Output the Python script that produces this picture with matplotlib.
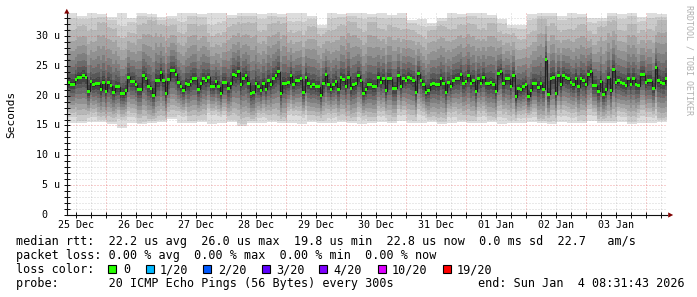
import numpy as np
import pandas as pd
import matplotlib
matplotlib.use("Agg")
import matplotlib.pyplot as plt
import matplotlib.dates as mdates
from matplotlib.transforms import offset_copy, blended_transform_factory
from matplotlib.patches import Rectangle, Polygon

# ---------------- data ----------------
# hourly median RTT in microseconds, 240 values over 10 days
median_us = [
    22.2, 21.9, 21.9, 22.7, 23.1, 23.1, 23.4, 23.1, 20.7, 22.3,
    21.8, 22.0, 22.0, 21.0, 22.2, 20.7, 22.2, 21.7, 20.6, 21.5,
    21.5, 20.3, 20.3, 20.8, 23.1, 22.4, 22.4, 21.8, 21.0, 21.0,
    23.3, 22.8, 21.6, 21.2, 20.1, 22.6, 22.6, 23.8, 22.5, 20.3,
    22.7, 24.2, 24.2, 23.6, 22.2, 21.5, 20.9, 22.1, 21.8, 22.4,
    22.8, 22.8, 21.1, 22.0, 22.8, 22.5, 23.1, 21.6, 21.6, 22.4,
    21.5, 20.4, 22.2, 22.2, 21.2, 22.0, 23.6, 23.3, 24.0, 21.8,
    22.9, 23.3, 22.1, 20.4, 20.6, 22.1, 21.5, 20.9, 22.1, 21.1,
    22.5, 21.8, 22.9, 23.3, 24.0, 20.4, 22.1, 22.0, 22.2, 23.3,
    21.9, 22.5, 22.6, 22.8, 20.6, 23.1, 22.0, 21.6, 21.8, 21.5,
    21.5, 20.1, 22.1, 23.5, 21.9, 21.1, 21.8, 22.4, 21.1, 23.0,
    22.7, 21.5, 23.1, 21.2, 21.8, 22.0, 23.3, 22.5, 20.4, 21.1,
    21.9, 21.9, 21.5, 21.6, 23.1, 22.2, 22.8, 20.8, 22.8, 22.8,
    21.2, 21.2, 23.3, 21.5, 22.8, 22.6, 23.1, 22.8, 22.5, 20.6,
    23.7, 22.6, 21.8, 20.6, 20.9, 21.8, 22.0, 21.8, 21.8, 22.8,
    22.1, 20.6, 22.2, 21.6, 22.6, 22.8, 22.8, 23.5, 22.1, 22.4,
    23.4, 22.1, 22.5, 20.7, 22.8, 22.1, 23.1, 22.0, 22.0, 22.2,
    21.9, 20.7, 23.7, 24.0, 22.0, 22.8, 22.8, 21.6, 23.4, 19.8,
    21.2, 21.0, 21.5, 21.8, 19.9, 20.9, 22.0, 22.0, 21.3, 22.0,
    21.1, 26.0, 20.2, 22.9, 23.1, 20.3, 23.3, 21.8, 23.3, 23.0,
    22.8, 22.2, 21.8, 22.9, 21.5, 22.9, 22.5, 21.8, 23.5, 24.0,
    21.7, 21.7, 20.7, 22.4, 20.2, 21.0, 23.0, 20.8, 24.3, 22.2,
    22.5, 22.2, 22.0, 21.7, 22.8, 21.9, 22.8, 21.9, 21.7, 23.5,
    23.5, 22.2, 22.5, 22.5, 21.2, 24.8, 22.5, 22.2, 22.1, 22.8,
]

# slowest / fastest ping, one value per 4-hour block (60 blocks)
ping_max_block = [
    33.8, 33.3, 33.8, 33.7, 33.2, 33.8, 33.0, 33.8, 33.6, 33.1,
    33.3, 33.8, 33.8, 33.6, 33.8, 33.8, 33.5, 33.8, 33.8, 33.7,
    33.8, 33.6, 33.8, 33.8, 33.4, 31.9, 33.8, 33.6, 33.8, 33.8,
    33.7, 33.8, 33.5, 33.8, 32.6, 32.9, 32.2, 33.0, 33.8, 33.6,
    33.8, 33.8, 33.5, 32.8, 31.8, 31.9, 33.6, 33.8, 33.8, 33.4,
    33.8, 33.7, 33.0, 33.0, 33.8, 33.6, 33.8, 33.2, 33.8, 33.7,
]
ping_min_block = [
    15.5, 15.4, 15.6, 15.6, 15.3, 14.6, 15.4, 15.2, 15.5, 15.6,
    16.1, 15.5, 15.4, 15.6, 15.3, 15.5, 15.6, 14.9, 15.4, 15.5,
    15.6, 15.4, 15.5, 15.3, 15.6, 15.5, 15.4, 15.6, 15.5, 15.3,
    15.5, 15.6, 15.4, 15.8, 15.5, 15.4, 15.6, 15.3, 15.5, 15.6,
    15.4, 15.5, 15.6, 15.3, 15.5, 15.4, 15.6, 15.5, 15.3, 15.6,
    15.4, 15.5, 15.7, 15.4, 15.5, 15.6, 15.3, 15.5, 15.4, 15.6,
]
# how widely the inner pings spread in each 4-hour block (dark streaks > 1)
spread_block = [
    1.00, 1.10, 1.00, 1.15, 1.10, 0.90, 1.00, 1.10, 1.20, 1.15,
    1.10, 0.95, 1.10, 1.10, 0.90, 0.95, 1.10, 1.10, 1.15, 1.00,
    1.10, 1.15, 0.95, 0.95, 1.10, 1.10, 1.00, 1.10, 1.15, 1.00,
    1.15, 1.00, 1.10, 1.00, 1.10, 0.95, 1.15, 1.15, 1.00, 1.10,
    1.10, 1.00, 1.15, 1.00, 1.10, 1.00, 1.00, 1.20, 1.10, 1.00,
    1.00, 1.10, 1.00, 1.15, 1.15, 1.00, 1.10, 1.00, 1.00, 1.20,
]
# typical spread of the 20 sorted pings around the median (read from one column)
upper_offsets = [0.3, 0.9, 1.7, 2.8, 4.0, 5.4, 7.0, 8.9, 10.8, 11.6]   # ping 11..20
lower_offsets = [0.3, 0.9, 1.5, 2.2, 2.9, 3.6, 4.3, 5.0, 5.8, 6.7]    # ping 10..1

y_ticks = [0, 5, 10, 15, 20, 25, 30]
x_labels = ["25 Dec", "26 Dec", "27 Dec", "28 Dec", "29 Dec", "30 Dec",
            "31 Dec", "01 Jan", "02 Jan", "03 Jan"]
loss_labels = ["0", "1/20", "2/20", "3/20", "4/20", "10/20", "19/20"]
loss_colors = ["#26ff00", "#00b8ff", "#0059ff", "#5e00ff", "#7e00ff", "#dd00ff", "#ff0000"]

end_time = pd.Timestamp("2026-01-04 08:31:43")
start_time = end_time - pd.Timedelta(days=10)

# ---------------- figure ----------------
W, H = 697, 297
fig = plt.figure(figsize=(W / 100, H / 100), dpi=100)
fig.patch.set_facecolor("white")
YMAX = 33.9
ax_left, ax_right, ax_bottom, ax_top = 67, 667, 215, 12.7
ax = fig.add_axes([ax_left / W, (H - ax_bottom) / H, (ax_right - ax_left) / W,
                   (ax_bottom - ax_top) / H])
ax.set_facecolor("white")

med = np.array(median_us)
n = len(med)
edges = mdates.date2num(pd.date_range(start_time, end_time, periods=n + 1).to_pydatetime())
reps = n // len(ping_max_block)
top = np.repeat(ping_max_block, reps)
bot = np.repeat(ping_min_block, reps)
spread = np.repeat(spread_block, reps)
s_hi = (top - med) / upper_offsets[-1]
s_lo = (med - bot) / lower_offsets[-1]

def ext(a):
    return np.append(a, a[-1])

# smoke: band i spans ping i .. ping 21-i
for i in range(1, 11):
    j = 10 - i
    if i == 1:
        lo, hi = bot, top
    else:
        lo = np.maximum(med - lower_offsets[j] * s_lo * spread, bot + 0.3 * (i - 1))
        hi = np.minimum(med + upper_offsets[j] * s_hi * spread, top - 0.5 * (i - 1))
    g = (int(190 / 10 * (10 - i)) + 50) / 255.0
    ax.fill_between(edges, ext(lo), ext(hi), step="post", color=(g, g, g),
                    linewidth=0, zorder=1)

# median line and loss-coloured median marks
ax.step(edges, ext(med), where="post", color="#202020", lw=0.9, zorder=3)
hh = 1.5 / ((ax_bottom - ax_top) / YMAX)
ax.fill_between(edges, ext(med - hh), ext(med + hh), step="post",
                color=loss_colors[0], linewidth=0, zorder=4)

ax.set_xlim(edges[0], edges[-1])
ax.set_ylim(0, YMAX)

# grid
mid = pd.date_range(start_time.ceil("D"), end_time, freq="D")
six = pd.date_range(start_time.ceil("6h"), end_time, freq="6h")
ax.set_xticks(mdates.date2num(mid.to_pydatetime()))
ax.set_xticks(mdates.date2num(six.to_pydatetime()), minor=True)
ax.set_yticks(y_ticks)
ax.set_yticks(np.arange(0, 34, 1), minor=True)
ax.set_axisbelow(False)
ax.grid(which="minor", color="#909090", alpha=0.38, linestyle=(0, (1, 2)), lw=0.72)
ax.grid(which="major", color="#e04040", alpha=0.5, linestyle=(0, (1, 2)), lw=0.72)
ax.tick_params(which="both", direction="inout", length=4, width=0.72, color="#101010",
               labelbottom=False, labelleft=False)

for s in ("top", "right"):
    ax.spines[s].set_visible(False)
for s in ("left", "bottom"):
    ax.spines[s].set_color("#101010")
    ax.spines[s].set_linewidth(0.8)
    ax.spines[s].set_zorder(5)

mono = "DejaVu Sans Mono"

# y tick labels
ty = blended_transform_factory(ax.transAxes, ax.transData)
for v in y_ticks:
    if v == 0:
        tr = offset_copy(ty, fig=fig, x=-20, y=0, units="dots")
        s = "0"
    else:
        tr = offset_copy(ty, fig=fig, x=-7, y=0, units="dots")
        s = f"{v} u"
    ax.text(0, v, s, transform=tr, ha="right", va="center", family=mono, fontsize=7.2)

# x labels at noon of each day
tx = offset_copy(ax.get_xaxis_transform(), fig=fig, x=0, y=-10, units="dots")
noon0 = start_time.normalize() + pd.Timedelta(hours=12)
for k, lab in enumerate(x_labels):
    xn = mdates.date2num((noon0 + pd.Timedelta(days=k)).to_pydatetime())
    ax.text(xn, 0, lab, transform=tx, ha="center", va="center", family=mono,
            fontsize=7.2, clip_on=False)

def fx(x):
    return x / W

def fy(y):
    return 1 - y / H

# axis arrows
arrow_c = "#7f0000"
fig.add_artist(Polygon([(fx(66.8), fy(8.8)), (fx(64.2), fy(13.6)), (fx(69.4), fy(13.6))],
                       closed=True, transform=fig.transFigure, color=arrow_c, lw=0))
fig.add_artist(Polygon([(fx(673.2), fy(215)), (fx(668.2), fy(212.4)), (fx(668.2), fy(217.6))],
                       closed=True, transform=fig.transFigure, color=arrow_c, lw=0))

fig.text(fx(11), fy(114), "Seconds", rotation=90, ha="center", va="center",
         family=mono, fontsize=8)
fig.text(fx(688.5), fy(60), "RRDTOOL / TOBI OETIKER", rotation=270, ha="center",
         va="center", family=mono, fontsize=6, color="#b0b0b0")

# legend
fs = 8.5
fig.text(fx(16), fy(245.3),
         "median rtt:  22.2 us avg  26.0 us max  19.8 us min  22.8 us now  0.0 ms sd  22.7   am/s",
         ha="left", va="baseline", family=mono, fontsize=fs)
fig.text(fx(16), fy(259.3), "packet loss: 0.00 % avg  0.00 % max  0.00 % min  0.00 % now",
         ha="left", va="baseline", family=mono, fontsize=fs)
fig.text(fx(16), fy(273.3), "loss color:", ha="left", va="baseline", family=mono, fontsize=fs)
box_x = [108, 146, 203, 262, 319, 378, 443]
lab_x = [123, 160, 218, 276, 333, 392, 457]
for bx, lx, lab, c in zip(box_x, lab_x, loss_labels, loss_colors):
    fig.add_artist(Rectangle((fx(bx), fy(273)), 8 / W, 8 / H, transform=fig.transFigure,
                             facecolor=c, edgecolor="black", lw=0.8))
    fig.text(fx(lx), fy(273.3), lab, ha="left", va="baseline", family=mono, fontsize=fs)
fig.text(fx(16), fy(287.3), "probe:       20 ICMP Echo Pings (56 Bytes) every 300s",
         ha="left", va="baseline", family=mono, fontsize=fs)
fig.text(fx(478), fy(287.3), "end: Sun Jan  4 08:31:43 2026",
         ha="left", va="baseline", family=mono, fontsize=fs)

fig.savefig("out.png", dpi=100, facecolor="white")
